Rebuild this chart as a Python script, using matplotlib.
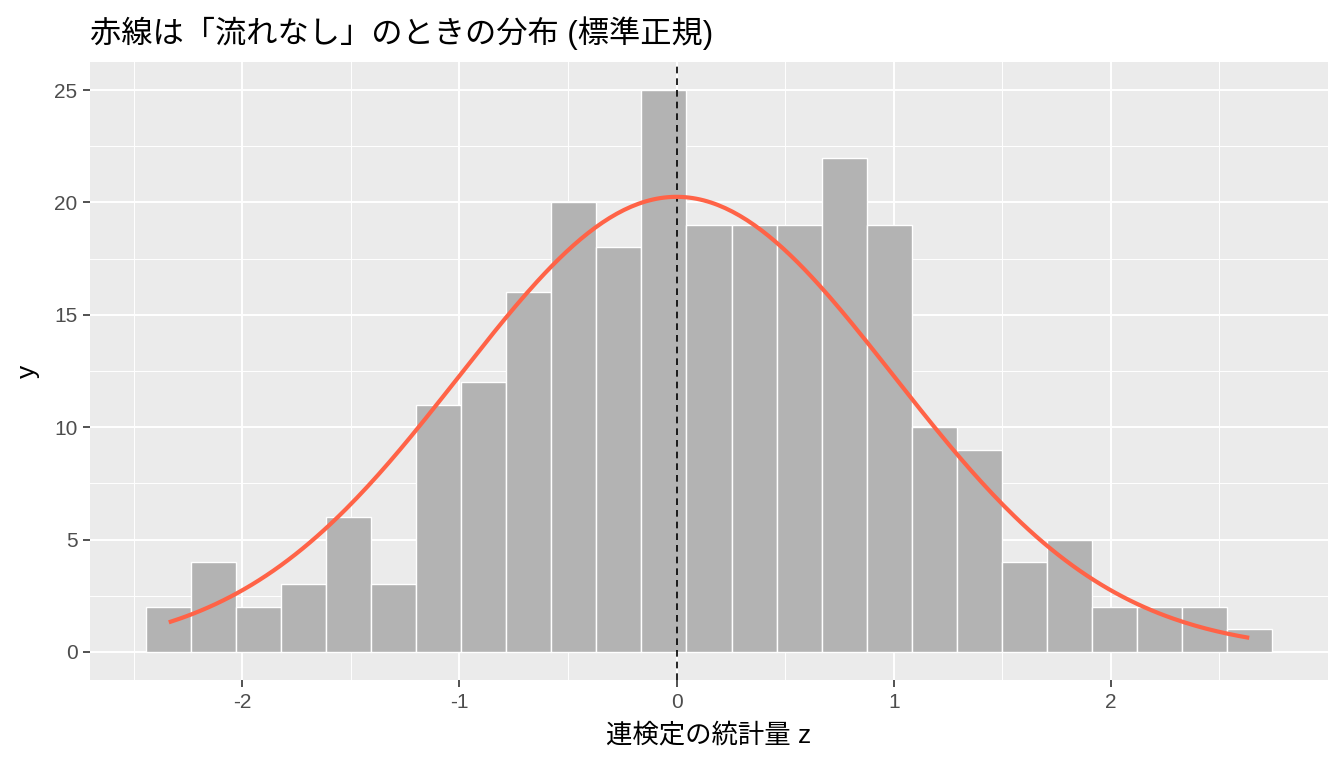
import numpy as np
import matplotlib
matplotlib.use("Agg")
import matplotlib.pyplot as plt

plt.rcParams['font.family'] = ['Liberation Sans', 'Noto Sans CJK JP', 'DejaVu Sans']
plt.rcParams['axes.unicode_minus'] = False

# histogram counts (25 bins, ggplot style)
counts = [2, 4, 2, 3, 6, 3, 11, 12, 16, 20, 18, 25, 19, 19, 19, 22, 19,
          10, 9, 4, 5, 2, 2, 2, 1]
z_min = -2.338   # smallest statistic (first bin centre)
z_max = 2.637    # largest statistic (last bin centre)
curve_peak = 20.25  # height of the red normal curve at z = 0

x_ticks = [-2, -1, 0, 1, 2]
y_ticks = [0, 5, 10, 15, 20, 25]

title = "赤線は「流れなし」のときの分布 (標準正規)"
x_label = "連検定の統計量 z"
y_label = "y"

centers = np.linspace(z_min, z_max, len(counts))
width = centers[1] - centers[0]

zs = np.linspace(z_min, z_max, 300)
dens = curve_peak * np.exp(-zs ** 2 / 2)

fig = plt.figure(figsize=(13.44, 7.68), dpi=100)
ax = fig.add_axes([90 / 1344, 88 / 768, 1238 / 1344, 618 / 768])
ax.set_facecolor("#EBEBEB")

# grid
for v in x_ticks:
    ax.axvline(v, color="white", lw=1.4, zorder=0)
for v in np.arange(-2.5, 3.0, 1.0):
    ax.axvline(v, color="white", lw=0.7, zorder=0)
for v in y_ticks:
    ax.axhline(v, color="white", lw=1.4, zorder=0)
for v in np.arange(2.5, 26, 5):
    ax.axhline(v, color="white", lw=0.7, zorder=0)

ax.bar(centers, counts, width=width, color="#B3B3B3", edgecolor="white",
       linewidth=1.0, zorder=2)
ax.axvline(0, color="black", lw=1.2, ls=(0, (4, 3)), zorder=3)
ax.plot(zs, dens, color="#FF6347", lw=3, zorder=4, solid_capstyle="butt")

lo = centers[0] - width / 2
hi = centers[-1] + width / 2
pad = (hi - lo) * 0.05
ax.set_xlim(lo - pad, hi + pad)
ax.set_ylim(-1.25, 26.25)

ax.set_xticks(x_ticks)
ax.set_yticks(y_ticks)
ax.tick_params(axis="both", colors="#333333", labelcolor="#4D4D4D",
               labelsize=15, length=5, width=1.2, pad=4)
for s in ax.spines.values():
    s.set_visible(False)

ax.set_xlabel(x_label, fontsize=19, color="black", labelpad=8)
ax.set_ylabel(y_label, fontsize=19, color="black", labelpad=10)
ax.set_title(title, fontsize=22.5, loc="left", color="black", pad=14)

fig.savefig("out.png", dpi=100)
